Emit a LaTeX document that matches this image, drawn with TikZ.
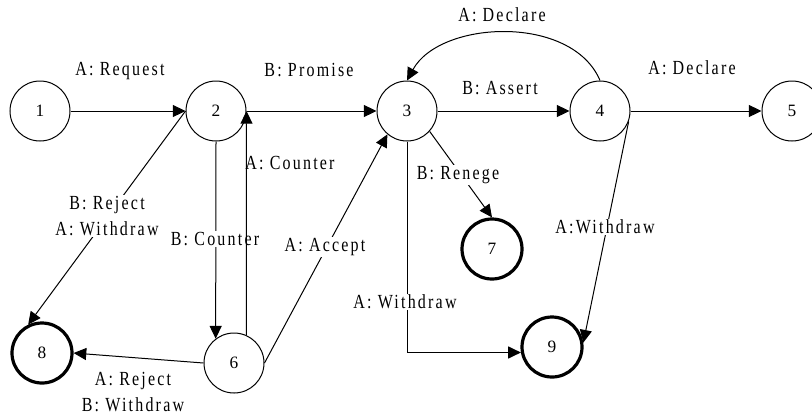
\documentclass[tikz,border=0pt]{standalone}
\usepackage{fontspec}
\setmainfont{Liberation Serif}
\newfontfamily\lblfont{Liberation Serif}[FakeStretch=0.8,LetterSpace=11]
\usetikzlibrary{arrows.meta}
\begin{document}
\begin{tikzpicture}[x=0.75pt,y=-0.75pt,
  st/.style={circle,draw,line width=0.75pt,minimum size=45pt,inner sep=0pt,font=\fontsize{13}{15}\selectfont},
  fin/.style={st,line width=2.4pt},
  lbl/.style={font=\lblfont\fontsize{15}{19.5}\selectfont,inner sep=1pt,align=center},
  wl/.style={lbl,fill=white},
  edge/.style={line width=0.75pt,-{Triangle[length=9.5pt,width=9pt]}}]
\useasboundingbox (0,0) rectangle (812,415);
\node[st] (n1) at (40,111) {1};
\node[st] (n2) at (216,111) {2};
\node[st] (n3) at (407,111) {3};
\node[st] (n4) at (600,111) {4};
\node[st] (n5) at (792,111) {5};
\node[st] (n6) at (234,363) {6};
\node[fin] (n7) at (492,249) {7};
\node[fin] (n8) at (42,353) {8};
\node[fin] (n9) at (552,347) {9};

\draw[edge] (n1) -- (n2);
\draw[edge] (n2) -- (n3);
\draw[edge] (n3) -- (n4);
\draw[edge] (n4) -- (n5);
\draw[edge] (n4.north) .. controls (572,14) and (440,20) .. (n3.north);
\draw[edge] (n2.west) -- (n8.116);
\draw[edge] (n2.south) -- (n6.127);
\node[wl] (lbc) at (215,239) {B: Counter};
\draw[edge] (n6.66) -- (n2.east);
\draw[edge] (n6.east) -- (n3.230);
\draw[edge] (n6.west) -- (n8.east);
\draw[edge] (n3.-42) -- (n7.north);
\draw[edge] (n3.south) |- (n9.190);
\draw[edge] (n4.-20) -- (n9.8);

\node[lbl] (lreq) at (120,71) {A: Request};
\node[lbl] (lpro) at (309,70) {B: Promise};
\node[lbl] (lass) at (500,88) {B: Assert};
\node[lbl] (ldec1) at (502,15) {A: Declare};
\node[lbl] (ldec2) at (692,68) {A: Declare};
\node[wl] (lrej) at (107,216) {B: Reject\\A: Withdraw};
\node[lbl] (lac) at (290,163) {A: Counter};
\node[wl] (lacc) at (325,247) {A: Accept};
\node[wl] (lren) at (458,175) {B: Renege};
\node[wl] (lwd) at (405,302) {A: Withdraw};
\node[wl] (lwd2) at (605,227) {A:Withdraw};
\node[lbl] (lrej2) at (133,392) {A: Reject\\B: Withdraw};
\end{tikzpicture}
\end{document}
